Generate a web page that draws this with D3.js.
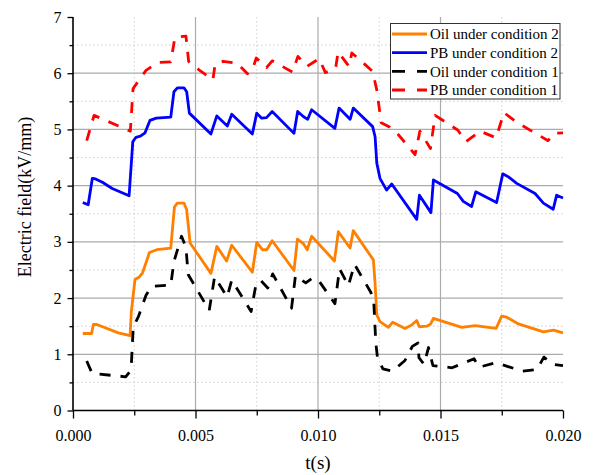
<!DOCTYPE html>
<html>
<head>
<meta charset="utf-8">
<script src="https://cdn.jsdelivr.net/npm/d3@7"></script>
<style>
  html, body { margin: 0; padding: 0; background: #fff; }
  svg { display: block; font-family: "Liberation Serif", "Times New Roman", serif; }
</style>
</head>
<body>
<svg id="chart" width="593" height="475"></svg>
<script>
// Axis ticks
const xTicks = [0, 0.005, 0.010, 0.015, 0.020];
const xMinorTicks = [0.0025, 0.0075, 0.0125, 0.0175];
const yTicks = [0, 1, 2, 3, 4, 5, 6, 7];
const yMinorTicks = [0.5, 1.5, 2.5, 3.5, 4.5, 5.5, 6.5];

const seriesNames = ["Oil under condition 2", "PB under condition 2", "Oil under condition 1", "PB under condition 1"];

// [t (s), E (kV/mm)]
const oilCond2 = [
  [0.00040,1.37],[0.00076,1.37],[0.00083,1.53],[0.00097,1.53],[0.00185,1.38],[0.00233,1.33],
  [0.00238,1.75],[0.00253,2.33],[0.00269,2.37],[0.00284,2.45],[0.00312,2.81],[0.00342,2.86],
  [0.00399,2.89],[0.00414,3.62],[0.00426,3.69],[0.00453,3.69],[0.00464,3.57],[0.00478,2.98],
  [0.00563,2.44],[0.00587,2.92],[0.00627,2.66],[0.00648,2.94],[0.00732,2.46],[0.00750,2.99],
  [0.00773,2.86],[0.00791,2.86],[0.00813,3.02],[0.00902,2.49],[0.00916,3.05],[0.00940,2.97],
  [0.00956,2.86],[0.00974,3.10],[0.01067,2.66],[0.01083,3.18],[0.01131,2.89],[0.01144,3.20],
  [0.01226,2.68],[0.01233,2.26],[0.01240,1.70],[0.01253,1.58],[0.01287,1.48],[0.01305,1.57],
  [0.01355,1.46],[0.01382,1.52],[0.01403,1.60],[0.01414,1.49],[0.01444,1.50],[0.01460,1.54],
  [0.01471,1.64],[0.01587,1.48],[0.01641,1.51],[0.01727,1.46],[0.01750,1.68],[0.01770,1.66],
  [0.01818,1.54],[0.01920,1.40],[0.01961,1.43],[0.02000,1.38]
];
const pbCond2 = [
  [0.00040,3.70],[0.00062,3.66],[0.00079,4.13],[0.00092,4.12],[0.00120,4.06],[0.00160,3.95],
  [0.00229,3.82],[0.00244,4.78],[0.00257,4.86],[0.00275,4.88],[0.00294,4.94],[0.00314,5.16],
  [0.00340,5.20],[0.00399,5.22],[0.00412,5.67],[0.00426,5.74],[0.00453,5.74],[0.00464,5.67],
  [0.00475,5.29],[0.00563,4.92],[0.00587,5.24],[0.00630,5.06],[0.00648,5.27],[0.00732,4.92],
  [0.00750,5.29],[0.00770,5.20],[0.00790,5.21],[0.00813,5.32],[0.00902,4.93],[0.00917,5.32],
  [0.00940,5.23],[0.00958,5.18],[0.00974,5.35],[0.01069,5.02],[0.01086,5.38],[0.01131,5.18],
  [0.01144,5.38],[0.01223,5.05],[0.01233,4.87],[0.01240,4.40],[0.01253,4.13],[0.01280,3.92],
  [0.01301,4.03],[0.01403,3.40],[0.01414,3.83],[0.01461,3.52],[0.01471,4.10],[0.01569,3.86],
  [0.01593,3.72],[0.01627,3.63],[0.01644,3.89],[0.01729,3.70],[0.01754,4.21],[0.01776,4.16],
  [0.01811,4.04],[0.01886,3.86],[0.01920,3.69],[0.01960,3.58],[0.01974,3.83],[0.02000,3.78]
];
const oilCond1 = [
  [0.00056,0.88],[0.00078,0.66],[0.00215,0.60],[0.00237,0.72],[0.00246,1.49],[0.00267,1.67],
  [0.00298,2.05],[0.00322,2.21],[0.00399,2.23],[0.00412,2.65],[0.00443,3.10],[0.00461,2.90],
  [0.00470,2.42],[0.00556,1.78],[0.00578,2.38],[0.00629,2.02],[0.00648,2.32],[0.00727,1.76],
  [0.00745,2.20],[0.00765,2.32],[0.00795,2.18],[0.00815,2.43],[0.00892,1.82],[0.00908,2.40],
  [0.00950,2.27],[0.00975,2.35],[0.01000,2.33],[0.01069,1.90],[0.01088,2.52],[0.01124,2.22],
  [0.01149,2.60],[0.01216,2.10],[0.01228,1.90],[0.01236,1.20],[0.01243,0.93],[0.01265,0.74],
  [0.01305,0.70],[0.01355,0.89],[0.01385,1.14],[0.01408,1.20],[0.01412,0.94],[0.01433,0.82],
  [0.01451,1.12],[0.01469,0.80],[0.01547,0.76],[0.01637,0.92],[0.01657,0.77],[0.01727,0.85],
  [0.01833,0.70],[0.01894,0.73],[0.01922,0.95],[0.01960,0.82],[0.02000,0.80]
];
const pbCond1 = [
  [0.00056,4.80],[0.00086,5.25],[0.00234,4.97],[0.00245,5.72],[0.00249,5.75],[0.00298,6.05],
  [0.00345,6.19],[0.00399,6.20],[0.00416,6.64],[0.00461,6.66],[0.00472,6.21],[0.00520,6.04],
  [0.00571,5.88],[0.00580,6.16],[0.00613,6.21],[0.00670,6.18],[0.00712,5.99],[0.00732,6.06],
  [0.00748,6.27],[0.00790,6.10],[0.00813,6.22],[0.00896,6.02],[0.00918,6.30],[0.00955,6.12],
  [0.01005,6.26],[0.01030,6.01],[0.01072,6.09],[0.01082,6.38],[0.01127,6.12],[0.01138,6.36],
  [0.01183,6.19],[0.01223,6.03],[0.01240,5.70],[0.01258,5.12],[0.01294,5.04],[0.01320,4.95],
  [0.01396,4.55],[0.01416,4.97],[0.01459,4.66],[0.01478,5.25],[0.01570,4.99],[0.01604,4.78],
  [0.01661,4.97],[0.01727,4.85],[0.01759,5.30],[0.01810,5.13],[0.01939,4.80],[0.01964,4.93],
  [0.02000,4.94]
];

const series = [
  { name: seriesNames[0], data: oilCond2, color: "#ff8000", dash: null },
  { name: seriesNames[1], data: pbCond2,  color: "#0000ff", dash: null },
  { name: seriesNames[2], data: oilCond1, color: "#000000", dash: "11,10" },
  { name: seriesNames[3], data: pbCond1,  color: "#ff0000", dash: "11,10" }
];

const svg = d3.select("#chart");
const x = d3.scaleLinear().domain([0, 0.02]).range([73, 563]);
const y = d3.scaleLinear().domain([0, 7]).range([410.5, 17]);

// Grid
const grid = svg.append("g");
grid.selectAll("line.vminor").data(xMinorTicks).join("line")
  .attr("x1", d => x(d)).attr("x2", d => x(d)).attr("y1", y(0)).attr("y2", y(7))
  .attr("stroke", "#cfcfcf").attr("stroke-width", 1).attr("stroke-dasharray", "1.5,2.5");
grid.selectAll("line.hminor").data(yMinorTicks).join("line")
  .attr("x1", x(0)).attr("x2", x(0.02)).attr("y1", d => y(d)).attr("y2", d => y(d))
  .attr("stroke", "#cfcfcf").attr("stroke-width", 1).attr("stroke-dasharray", "1.5,2.5");
grid.selectAll("line.vmajor").data(xTicks.slice(1, -1)).join("line")
  .attr("x1", d => x(d)).attr("x2", d => x(d)).attr("y1", y(0)).attr("y2", y(7))
  .attr("stroke", "#ababab").attr("stroke-width", 1.2);
grid.selectAll("line.hmajor").data(yTicks.slice(1, -1)).join("line")
  .attr("x1", x(0)).attr("x2", x(0.02)).attr("y1", d => y(d)).attr("y2", d => y(d))
  .attr("stroke", "#ababab").attr("stroke-width", 1.2);

// Series
const line = d3.line().x(d => x(d[0])).y(d => y(d[1]));
svg.append("g").selectAll("path").data(series).join("path")
  .attr("d", d => line(d.data))
  .attr("fill", "none")
  .attr("stroke", d => d.color)
  .attr("stroke-width", 2.8)
  .attr("stroke-linejoin", "round")
  .attr("stroke-dasharray", d => d.dash);

// Axes
const xAxisG = svg.append("g").attr("transform", `translate(0,${y(0)})`);
xAxisG.call(d3.axisBottom(x).tickValues(xMinorTicks).tickSize(5).tickFormat("").tickSizeOuter(0));
xAxisG.append("g").call(d3.axisBottom(x).tickValues(xTicks).tickFormat(d3.format(".3f"))
  .tickSize(8).tickPadding(11).tickSizeOuter(0));
const yAxisG = svg.append("g").attr("transform", `translate(${x(0)},0)`);
yAxisG.call(d3.axisLeft(y).tickValues(yMinorTicks).tickSize(3.5).tickFormat("").tickSizeOuter(0));
yAxisG.append("g").call(d3.axisLeft(y).tickValues(yTicks).tickFormat(d3.format("d"))
  .tickSize(5.5).tickPadding(6).tickSizeOuter(0));
svg.selectAll(".domain").remove();
svg.selectAll(".tick line").attr("stroke", "#000").attr("stroke-width", 1.3);
svg.selectAll(".tick text").attr("font-family", "'Liberation Serif', serif")
  .attr("font-size", 16).attr("fill", "#000");
svg.append("line").attr("x1", x(0)).attr("x2", x(0.02)).attr("y1", y(0)).attr("y2", y(0))
  .attr("stroke", "#000").attr("stroke-width", 1.6);
svg.append("line").attr("x1", x(0)).attr("x2", x(0)).attr("y1", y(0)).attr("y2", y(7))
  .attr("stroke", "#000").attr("stroke-width", 1.6);

// Axis titles
svg.append("text").attr("x", 318).attr("y", 469).attr("text-anchor", "middle")
  .attr("font-size", 19).text("t(s)");
svg.append("text").attr("transform", "translate(24.5,197) rotate(-90)")
  .attr("text-anchor", "middle").attr("dy", "0.35em")
  .attr("font-size", 18).text("Electric field(kV/mm)");

// Legend
const legend = svg.append("g");
legend.append("rect").attr("x", 390.5).attr("y", 23.5).attr("width", 169.5).attr("height", 75.5)
  .attr("fill", "#fff").attr("stroke", "#333").attr("stroke-width", 1);
const rowY = i => 34 + i * 18.67;
const items = legend.selectAll("g.item").data(series).join("g");
items.append("line")
  .attr("x1", 392).attr("x2", 427).attr("y1", (d, i) => rowY(i)).attr("y2", (d, i) => rowY(i))
  .attr("stroke", d => d.color).attr("stroke-width", 2.8)
  .attr("stroke-dasharray", d => d.dash ? "13,12" : null);
items.append("text")
  .attr("x", 430).attr("y", (d, i) => rowY(i)).attr("dy", "0.35em")
  .attr("font-size", 15).text(d => d.name);
</script>
</body>
</html>
